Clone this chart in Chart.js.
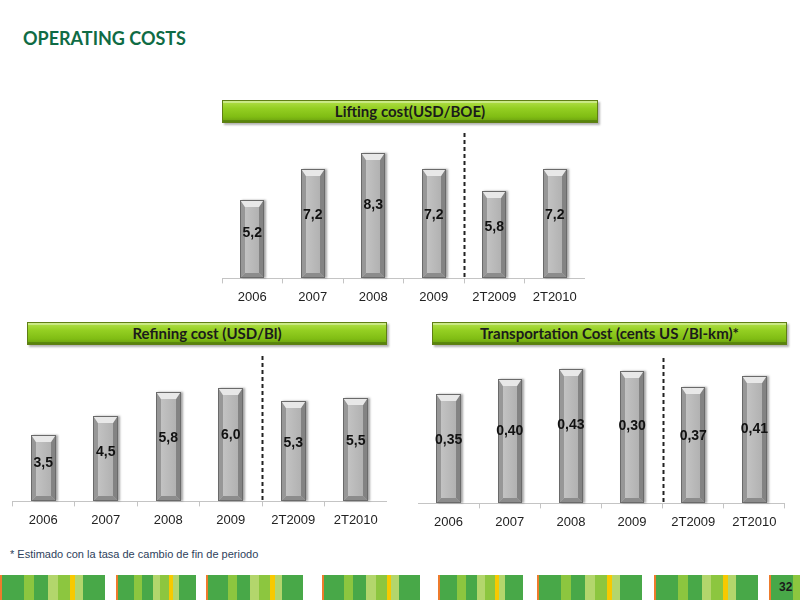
<!DOCTYPE html>
<html lang="es">
<head>
  <meta charset="UTF-8">
  <title>Operating Costs</title>
  <script src="https://cdn.jsdelivr.net/npm/chart.js"></script>
  <style>
    body {
      margin: 0;
      width: 800px;
      height: 600px;
      background: #ffffff;
      position: relative;
      overflow: hidden;
      font-family: "Liberation Sans", Arial, sans-serif;
    }
    .title {
      position: absolute;
      left: 23px;
      top: 27px;
      font-family: Lato, "Open Sans", sans-serif;
      font-weight: 700;
      font-size: 18px;
      color: #0f6b45;
    }
    .banner {
      position: absolute;
      height: 21px;
      line-height: 21px;
      text-align: center;
      font-family: Lato, "Open Sans", sans-serif;
      font-weight: 700;
      font-size: 15px;
      color: #1b1b1b;
      background: linear-gradient(to bottom, #b2e04a 0%, #94cf22 35%, #80bd14 75%, #6a9e10 100%);
      border: 1px solid #5f7f14;
      box-shadow: inset 0 2px 0 rgba(255,255,255,0.35), inset 0 -2px 0 rgba(0,0,0,0.18), 2px 2px 2px rgba(0,0,0,0.3);
    }
    .box { position: absolute; }
    .note {
      position: absolute;
      left: 10px;
      top: 548px;
      font-family: "Liberation Sans Narrow", "Liberation Sans", Arial, sans-serif;
      font-size: 11px;
      color: #2e3f5c;
    }
    #strip { position: absolute; left: 0; top: 575px; width: 800px; height: 25px; }
    .page {
      position: absolute;
      left: 779px;
      top: 580px;
      font-family: "Liberation Sans Narrow", "Liberation Sans", Arial, sans-serif;
      font-weight: 700;
      font-size: 12px;
      color: #1a1a1a;
    }
  </style>
</head>
<body>
  <div class="title">OPERATING COSTS</div>

  <div class="banner" style="left:222px; top:100px; width:374px;">Lifting cost(USD/BOE)</div>
  <div class="box" style="left:222px; top:133px; width:363px; height:178px;"><canvas id="liftingChart"></canvas></div>

  <div class="banner" style="left:27px; top:322px; width:358px;">Refining cost (USD/Bl)</div>
  <div class="box" style="left:12px; top:356px; width:375px; height:178px;"><canvas id="refiningChart"></canvas></div>

  <div class="banner" style="left:432px; top:322px; width:353px;">Transportation Cost (cents US /Bl-km)*</div>
  <div class="box" style="left:418px; top:358px; width:367px; height:178px;"><canvas id="transportChart"></canvas></div>

  <div class="note">* Estimado con la tasa de cambio de fin de periodo</div>
  <div id="strip"></div>
  <div class="page">32</div>

  <script>
    // Chart data
    var periods = ['2006', '2007', '2008', '2009', '2T2009', '2T2010'];

    var liftingValues = [5.2, 7.2, 8.3, 7.2, 5.8, 7.2];
    var liftingLabels = ['5,2', '7,2', '8,3', '7,2', '5,8', '7,2'];

    var refiningValues = [3.5, 4.5, 5.8, 6.0, 5.3, 5.5];
    var refiningLabels = ['3,5', '4,5', '5,8', '6,0', '5,3', '5,5'];

    // bar heights as drawn; 2009 is labelled 0,30 in the source
    var transportValues = [0.35, 0.40, 0.43, 0.425, 0.373, 0.408];
    var transportLabels = ['0,35', '0,40', '0,43', '0,30', '0,37', '0,41'];

    // Bevelled grey bars + value labels + dashed separator
    var bevelPlugin = {
      id: 'bevel',
      afterDatasetsDraw: function(chart, args, opts) {
        var ctx = chart.ctx;
        var meta = chart.getDatasetMeta(0);
        var area = chart.chartArea;
        var xs = chart.scales.x;

        // dashed line between 2009 and 2T2009
        var dx = Math.round((xs.getPixelForTick(3) + xs.getPixelForTick(4)) / 2) + 0.5;
        ctx.save();
        ctx.strokeStyle = '#222';
        ctx.lineWidth = 2;
        ctx.setLineDash([4, 3]);
        ctx.beginPath();
        ctx.moveTo(dx, area.top);
        ctx.lineTo(dx, area.bottom);
        ctx.stroke();
        ctx.restore();

        meta.data.forEach(function(el, i) {
          var p = el.getProps(['x', 'y', 'base', 'width'], true);
          var L = Math.round(p.x - p.width / 2), R = Math.round(p.x + p.width / 2);
          var T = Math.round(p.y), B = Math.round(p.base);
          var b = 4;
          ctx.save();
          ctx.shadowColor = 'rgba(0,0,0,0.35)';
          ctx.shadowOffsetX = 2;
          ctx.shadowBlur = 2;
          ctx.fillStyle = '#6a6a6a';
          ctx.fillRect(L, T, R - L, B - T);
          ctx.restore();

          var face = ctx.createLinearGradient(L, 0, R, 0);
          face.addColorStop(0, '#c8c8c8');
          face.addColorStop(1, '#acacac');
          ctx.fillStyle = face;
          ctx.fillRect(L + 1, T + 1, R - L - 2, B - T - 2);

          function poly(pts, col) {
            ctx.beginPath();
            ctx.moveTo(pts[0][0], pts[0][1]);
            for (var k = 1; k < pts.length; k++) ctx.lineTo(pts[k][0], pts[k][1]);
            ctx.closePath();
            ctx.fillStyle = col;
            ctx.fill();
          }
          var l = L + 1, r = R - 1, t = T + 1, bt = B - 1;
          poly([[l, t], [l + b, t + b + 2], [l + b, bt - b], [l, bt]], '#979797');
          poly([[r, t], [r - b, t + b + 2], [r - b, bt - b], [r, bt]], '#838383');
          poly([[l, t], [r, t], [r - b, t + b + 2], [l + b, t + b + 2]], '#e8e8e8');
          poly([[l, bt], [r, bt], [r - b, bt - b], [l + b, bt - b]], '#8c8c8c');

          // value label
          ctx.save();
          ctx.font = 'bold 14px "Liberation Sans", Arial, sans-serif';
          ctx.fillStyle = '#111';
          ctx.textAlign = 'center';
          ctx.textBaseline = 'middle';
          ctx.fillText(opts.labels[i], p.x, T + 0.42 * (B - T));
          ctx.restore();
        });
      }
    };

    function makeChart(id, values, labels, maxY) {
      var ctx = document.getElementById(id).getContext('2d');
      return new Chart(ctx, {
        type: 'bar',
        data: {
          labels: periods,
          datasets: [{
            data: values,
            backgroundColor: 'rgba(0,0,0,0)',
            borderWidth: 0,
            barPercentage: 0.8,
            categoryPercentage: 0.5
          }]
        },
        options: {
          responsive: true,
          maintainAspectRatio: false,
          animation: false,
          layout: { padding: 0 },
          plugins: {
            legend: { display: false },
            tooltip: { enabled: false },
            bevel: { labels: labels }
          },
          scales: {
            y: { display: false, min: 0, max: maxY },
            x: {
              offset: true,
              border: { display: true, color: '#c4c4c4', width: 1 },
              grid: { display: true, offset: true, drawOnChartArea: false, drawTicks: true, tickLength: 5, color: '#c4c4c4' },
              ticks: { color: '#222', padding: 6, font: { family: '"Liberation Sans", Arial, sans-serif', size: 13 } }
            }
          }
        },
        plugins: [bevelPlugin]
      });
    }

    var liftingChart = makeChart('liftingChart', liftingValues, liftingLabels, 9.6);
    var refiningChart = makeChart('refiningChart', refiningValues, refiningLabels, 7.7);
    var transportChart = makeChart('transportChart', transportValues, transportLabels, 0.466);

    // Decorative footer stripes
    var stripColors = { o: '#ee7b2c', d: '#48a848', m: '#8cc63f', p: '#b3d66c', y: '#f7c900' };
    var groupPattern = [['o', 2], ['d', 22], ['m', 10], ['d', 14], ['p', 10], ['m', 12], ['y', 5], ['p', 8], ['d', 22]];
    var groupStarts = [0, 116, 206, 322, 438, 537, 654, 769];
    var groupWidths = [105, 80, 96, 97, 85, 105, 104, 31];
    var strip = document.getElementById('strip');
    groupStarts.forEach(function(start, g) {
      var total = 0;
      groupPattern.forEach(function(s) { total += s[1]; });
      var x = start;
      var end = start + groupWidths[g];
      var scale = groupWidths[g] / total;
      if (g === groupStarts.length - 1) scale = 1;
      groupPattern.forEach(function(s) {
        var w = s[1] * scale;
        if (x >= end) return;
        w = Math.min(w, end - x);
        var d = document.createElement('div');
        d.style.cssText = 'position:absolute;top:0;height:25px;left:' + x + 'px;width:' + Math.ceil(w) + 'px;background:' + stripColors[s[0]];
        strip.appendChild(d);
        x += w;
      });
    });
  </script>
</body>
</html>
